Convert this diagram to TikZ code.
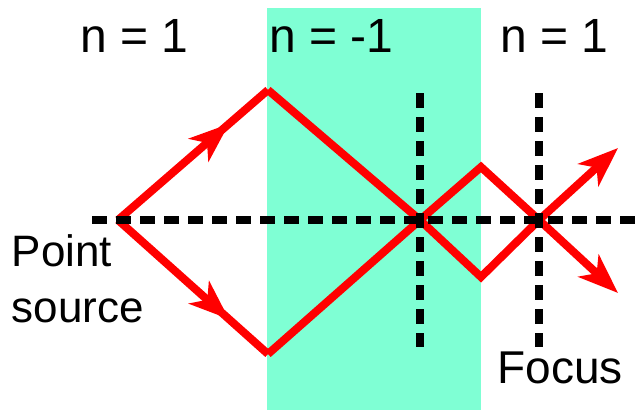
\documentclass[tikz,border=0pt]{standalone}
\usepackage{fontspec}
\setmainfont{Liberation Sans}
\usetikzlibrary{arrows.meta,decorations.markings}
\definecolor{slab}{RGB}{127,255,212}
\tikzset{
  ray/.style={draw=red, line width=8pt, line join=miter},
  axis/.style={draw=black, line width=8.5pt, dash pattern=on 15pt off 9pt},
  midarrow/.style={postaction={decorate}, decoration={markings,
     mark=at position #1 with {\arrow{Stealth[length=40pt 0,width=30pt 0,inset=11pt 0]}}}},
  lbl/.style={anchor=base west, inner sep=0pt, font=\fontsize{48pt}{56pt}\selectfont},
  lbls/.style={anchor=base west, inner sep=0pt, font=\fontsize{44pt}{56pt}\selectfont}
}
\begin{document}
\begin{tikzpicture}[x=1pt,y=-1pt]
\useasboundingbox (0,0) rectangle (640,410);
% slab
\fill[slab] (267,8) rectangle (481,410);
% coordinates
\coordinate (src) at (118,220);
\coordinate (t1) at (268,90);
\coordinate (b1) at (268,354);
\coordinate (f1) at (420,220);
\coordinate (t2) at (481,167);
\coordinate (b2) at (481,277);
\coordinate (f2) at (539,220);
\coordinate (e1) at (618,148);
\coordinate (e2) at (618,293);
\coordinate (axL) at (92,220);
\coordinate (axR) at (640,220);
\coordinate (v1t) at (420,93);
\coordinate (v1b) at (420,347);
\coordinate (v2t) at (539,93);
\coordinate (v2b) at (539,347);
% rays
\draw[ray, midarrow=0.74] (src) -- (t1);
\draw[ray] (t1) -- (f1) -- (t2) -- (f2);
\draw[ray, -{Stealth[length=40pt 0,width=30pt 0,inset=11pt 0]}] (f2) -- (e1);
\draw[ray, midarrow=0.74] (src) -- (b1);
\draw[ray] (b1) -- (f1) -- (b2) -- (f2);
\draw[ray, -{Stealth[length=40pt 0,width=30pt 0,inset=11pt 0]}] (f2) -- (e2);
% dashed axes
\draw[axis] (axL) -- (axR);
\draw[axis] (v1t) -- (v1b);
\draw[axis] (v2t) -- (v2b);
% labels
\node[lbl] (n1) at (80,52) {n = 1};
\node[lbl] (n2) at (269,52) {n = -1};
\node[lbl] (n3) at (500,52) {n = 1};
\node[lbls] (ps1) at (11.5,266) {Point};
\node[lbls] (ps2) at (11.5,322) {source};
\node[lbls, font=\fontsize{46pt}{56pt}\selectfont] (foc) at (497.5,383) {Focus};
\end{tikzpicture}
\end{document}
